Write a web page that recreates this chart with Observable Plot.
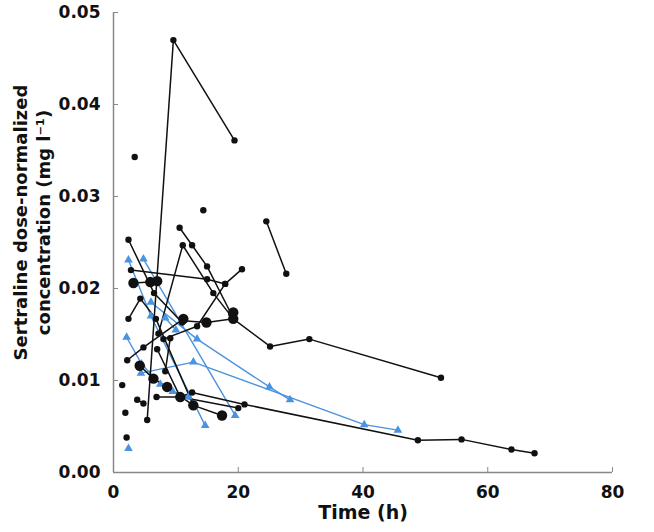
<!DOCTYPE html>
<html><head><meta charset="utf-8">
<script src="https://cdn.jsdelivr.net/npm/d3@7"></script>
<script src="https://cdn.jsdelivr.net/npm/@observablehq/plot@0.6"></script>
<style>body{margin:0;background:#fff}</style>
</head><body><div id="chart"></div>
<script>
const xTicks = [0, 20, 40, 60, 80];
const yTicks = [0, 0.01, 0.02, 0.03, 0.04, 0.05];

// Black subjects: [time (h), dose-normalized concentration (mg/l)]
const blackSubjects = [
  [[5.4, 0.0057], [9.6, 0.0470], [19.4, 0.0361]],
  [[24.5, 0.0273], [27.7, 0.0216]],
  [[3.4, 0.0343]],
  [[14.4, 0.0285]],
  [[10.6, 0.0266], [12.6, 0.0247], [15.0, 0.0224], [18.9, 0.0172]],
  [[7.2, 0.0151], [11.1, 0.0247], [16.0, 0.0195], [19.2, 0.0167]],
  [[2.4, 0.0253], [6.5, 0.0195], [11.0, 0.0163]],
  [[2.8, 0.0220], [15.0, 0.0210], [17.9, 0.0205], [20.6, 0.0221]],
  [[3.2, 0.0206], [5.9, 0.0207], [7.0, 0.0208]],
  [[11.2, 0.0165], [14.9, 0.0163], [19.2, 0.0167], [25.1, 0.0137], [31.4, 0.0145], [52.5, 0.0103]],
  [[8.0, 0.0145], [13.4, 0.0159], [17.9, 0.0205]],
  [[2.4, 0.0167], [4.3, 0.0189], [6.8, 0.0167], [12.8, 0.0073]],
  [[2.2, 0.0122], [4.8, 0.0136], [11.2, 0.0167]],
  [[4.2, 0.0116], [6.4, 0.0102], [8.6, 0.0093], [12.8, 0.0073], [17.4, 0.0062]],
  [[7.0, 0.0134], [10.7, 0.0082], [12.6, 0.0087], [21.0, 0.0074], [48.8, 0.0035], [55.8, 0.0036], [63.8, 0.0025], [67.5, 0.0021]],
  [[9.1, 0.0146], [8.3, 0.0110]],
  [[1.4, 0.0095]],
  [[1.9, 0.0065]],
  [[2.1, 0.0038]],
  [[3.8, 0.0079], [4.8, 0.0075]],
  [[6.9, 0.0082], [10.7, 0.0082], [20.0, 0.0070]]
];

// Blue subjects (triangles)
const blueSubjects = [
  [[2.4, 0.0231], [6.0, 0.0170], [14.7, 0.0051]],
  [[4.8, 0.0232], [19.5, 0.0062]],
  [[2.1, 0.0147], [4.5, 0.0118], [7.5, 0.0096], [9.5, 0.0088], [12.0, 0.0082]],
  [[6.0, 0.0185], [13.4, 0.0145], [25.0, 0.0093], [28.3, 0.0079]],
  [[4.4, 0.0108], [12.8, 0.0120], [40.2, 0.0052], [45.6, 0.0046]],
  [[2.4, 0.0026]],
  [[8.3, 0.0168], [10.0, 0.0155]]
];

// Observations drawn with the larger marker
const largeMarkers = [
  [3.2, 0.0206], [5.9, 0.0207], [7.0, 0.0208], [4.2, 0.0116], [6.4, 0.0102],
  [8.6, 0.0093], [10.7, 0.0082], [12.8, 0.0073], [17.4, 0.0062], [11.2, 0.0167],
  [14.9, 0.0163], [19.2, 0.0167], [19.2, 0.0174]
];

const black = blackSubjects.flatMap((s, i) => s.map(([t, c]) => ({id: "k" + i, t, c})));
const blue = blueSubjects.flatMap((s, i) => s.map(([t, c]) => ({id: "b" + i, t, c})));
const large = largeMarkers.map(([t, c]) => ({t, c}));

const BLUE = "#4a93e0";
const FONT = "'DejaVu Sans', Verdana, sans-serif";
const chart = Plot.plot({
  width: 654, height: 532,
  marginLeft: 113, marginTop: 12, marginRight: 42, marginBottom: 60,
  x: {domain: [0, 80]},
  y: {domain: [0, 0.05]},
  style: {fontFamily: FONT, background: "#fff"},
  marks: [
    Plot.axisX(xTicks, {tickSize: -5, tickPadding: 18, fontSize: 17, fontWeight: 700, stroke: "#888", fill: "#111", label: null, tickFormat: d => String(d)}),
    Plot.axisY(yTicks, {tickSize: -5, tickPadding: 18, fontSize: 17, fontWeight: 700, stroke: "#888", fill: "#111", label: null, tickFormat: d3.format(".2f")}),
    Plot.ruleX([0], {stroke: "#888", strokeWidth: 1.5}),
    Plot.ruleY([0], {stroke: "#888", strokeWidth: 1.5}),
    Plot.line(blue, {x: "t", y: "c", z: "id", stroke: BLUE, strokeWidth: 1.4}),
    Plot.line(black, {x: "t", y: "c", z: "id", stroke: "#111", strokeWidth: 1.5}),
    Plot.dot(blue, {x: "t", y: "c", symbol: "triangle", r: 3.2, fill: BLUE}),
    Plot.dot(black, {x: "t", y: "c", r: 3.2, fill: "#111"}),
    Plot.dot(large, {x: "t", y: "c", r: 5.2, fill: "#111"}),
    Plot.text(["Time (h)"], {frameAnchor: "bottom", dy: 46, fontSize: 19, fontWeight: 700, fill: "#111"}),
    Plot.text(["Sertraline dose-normalized\nconcentration (mg l\u207B\u00B9)"], {frameAnchor: "left", textAnchor: "middle", rotate: -90, dx: -82, dy: -20, fontSize: 18, fontWeight: 700, lineHeight: 1.25, fill: "#111"})
  ]
});
document.getElementById("chart").appendChild(chart);
</script>
</body></html>
